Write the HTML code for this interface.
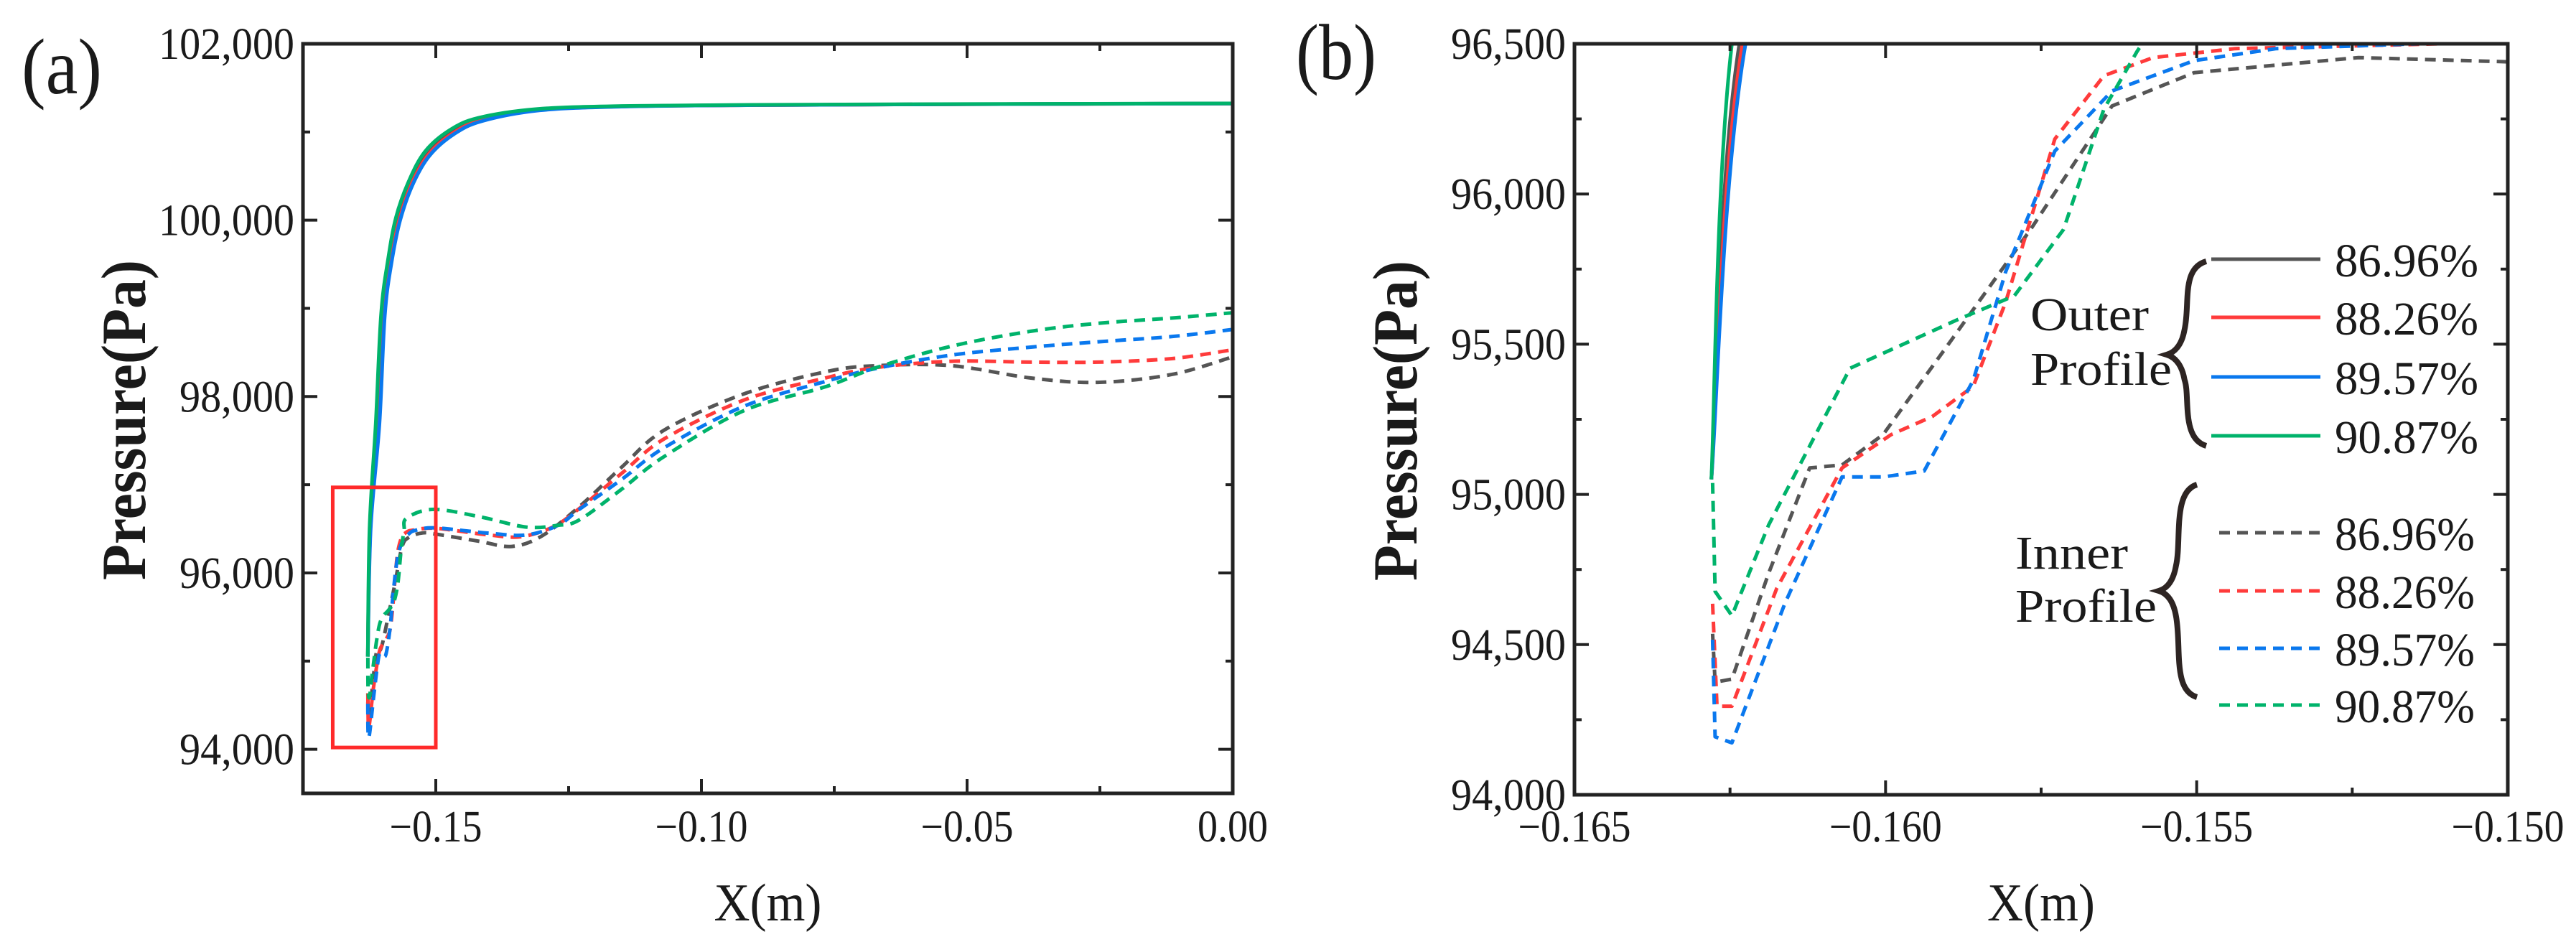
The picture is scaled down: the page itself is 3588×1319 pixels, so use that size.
<!DOCTYPE html>
<html><head><meta charset="utf-8"><style>
html,body{margin:0;padding:0;background:#fff;}
svg{display:block;}
text{font-family:"Liberation Serif","Times New Roman",serif;fill:#1a1a1a;}
</style></head><body>
<svg id="fig" width="3588" height="1319" viewBox="0 0 3588 1319" xmlns="http://www.w3.org/2000/svg">
<defs>
<clipPath id="clipA"><rect x="422" y="61" width="1295" height="1044"/></clipPath>
<clipPath id="clipB"><rect x="2193" y="61" width="1300" height="1046"/></clipPath>
</defs>
<g id="panelA"></g>
<g id="panelB"></g>
<text x="30" y="130" font-size="110" textLength="112" lengthAdjust="spacingAndGlyphs">(a)</text>
<text x="1805" y="110" font-size="110" textLength="112" lengthAdjust="spacingAndGlyphs">(b)</text>
<g id="legend"></g>
</svg>
<script>
const seriesNames = ["86.96%","88.26%","89.57%","90.87%"];
const seriesColors = ["#555555","#ff3b3b","#0a78ee","#00b36b"];
// Outer profile: x (m), pressure (Pa)
const outerX = [
 [-0.1628,-0.16235,-0.1608,-0.1598,-0.1585,-0.1569,-0.1545,-0.1514,-0.1468,-0.1414,-0.1305,-0.115,-0.09,-0.05,0],
 [-0.1628,-0.1623,-0.1607,-0.1597,-0.1584,-0.1568,-0.1544,-0.1513,-0.1467,-0.1413,-0.1305,-0.115,-0.09,-0.05,0],
 [-0.1628,-0.16225,-0.1606,-0.1596,-0.1583,-0.1567,-0.1543,-0.1512,-0.1466,-0.1412,-0.1304,-0.115,-0.09,-0.05,0],
 [-0.1628,-0.16247,-0.1613,-0.1603,-0.159,-0.1575,-0.1551,-0.152,-0.1474,-0.142,-0.131,-0.115,-0.09,-0.05,0]
];
const outerP = [
 [95050,96500,97700,98930,99550,100030,100440,100760,101000,101140,101250,101290,101305,101315,101322],
 [95050,96500,97700,98930,99550,100020,100430,100750,100990,101135,101248,101290,101305,101315,101322],
 [95050,96500,97700,98920,99530,100000,100410,100730,100975,101125,101245,101288,101305,101315,101322],
 [95050,96500,97700,98930,99550,100030,100440,100780,101020,101160,101260,101295,101308,101317,101324]
];
// Inner profile
const innerX = [
 [-0.16278,-0.16274,-0.16247,-0.16188,-0.16122,-0.1607,-0.16004,-0.15899,-0.15767,-0.15636,-0.15504,-0.1524,-0.150,-0.1420,-0.1357,-0.130,-0.123,-0.115,-0.107,-0.092,-0.0767,-0.067,-0.053,-0.038,-0.0254,-0.0115,0],
 [-0.16278,-0.16271,-0.16247,-0.16175,-0.1607,-0.15991,-0.15925,-0.15859,-0.15807,-0.15728,-0.15649,-0.1557,-0.15438,-0.150,-0.1400,-0.1340,-0.128,-0.123,-0.115,-0.107,-0.092,-0.0767,-0.067,-0.053,-0.038,-0.0254,-0.0115,0],
 [-0.16278,-0.16274,-0.16247,-0.16162,-0.1607,-0.16004,-0.15938,-0.15859,-0.15807,-0.15728,-0.15636,-0.15504,-0.15372,-0.150,-0.1400,-0.1330,-0.127,-0.123,-0.115,-0.107,-0.092,-0.0767,-0.067,-0.053,-0.038,-0.0254,-0.0115,0],
 [-0.16278,-0.16274,-0.16247,-0.16188,-0.16057,-0.15886,-0.15793,-0.15714,-0.15649,-0.15596,-0.1555,-0.1505,-0.142,-0.133,-0.127,-0.123,-0.115,-0.107,-0.092,-0.0767,-0.067,-0.053,-0.038,-0.0254,-0.0115,0]
];
const innerP = [
 [94536,94375,94385,94737,95088,95098,95199,95500,95882,96293,96404,96454,96440,96360,96300,96420,96750,97200,97620,98030,98280,98350,98350,98210,98160,98250,98450],
 [94636,94295,94295,94687,95088,95199,95259,95360,95640,96183,96394,96454,96484,96505,96430,96410,96520,96730,97130,97520,97960,98210,98330,98400,98390,98390,98430,98530],
 [94516,94193,94173,94636,95058,95058,95078,95380,95741,96143,96343,96444,96484,96510,96450,96430,96540,96720,97060,97420,97890,98170,98320,98470,98560,98620,98680,98760],
 [95038,94677,94596,94898,95420,95580,95661,95882,96283,96474,96620,96720,96640,96520,96540,96600,96950,97320,97840,98110,98330,98570,98740,98830,98890,98950]
];
const aXTicks = [-0.15,-0.10,-0.05,0.00];
const aXTickLabels = ["\u22120.15","\u22120.10","\u22120.05","0.00"];
const aYTicks = [94000,96000,98000,100000,102000];
const aYTickLabels = ["94,000","96,000","98,000","100,000","102,000"];
const bXTicks = [-0.165,-0.160,-0.155,-0.150];
const bXTickLabels = ["\u22120.165","\u22120.160","\u22120.155","\u22120.150"];
const bYTicks = [94000,94500,95000,95500,96000,96500];
const bYTickLabels = ["94,000","94,500","95,000","95,500","96,000","96,500"];

const NS="http://www.w3.org/2000/svg";
function mk(tag,attrs,parent){const e=document.createElementNS(NS,tag);for(const k in attrs)e.setAttribute(k,attrs[k]);parent.appendChild(e);return e;}
function smoothPath(p){
  let d='M'+p[0][0].toFixed(1)+','+p[0][1].toFixed(1);
  for(let i=0;i<p.length-1;i++){
    const p0=p[Math.max(i-1,0)],p1=p[i],p2=p[i+1],p3=p[Math.min(i+2,p.length-1)];
    const c1x=p1[0]+(p2[0]-p0[0])/6,c1y=p1[1]+(p2[1]-p0[1])/6;
    const c2x=p2[0]-(p3[0]-p1[0])/6,c2y=p2[1]-(p3[1]-p1[1])/6;
    d+=' C'+c1x.toFixed(1)+','+c1y.toFixed(1)+' '+c2x.toFixed(1)+','+c2y.toFixed(1)+' '+p2[0].toFixed(1)+','+p2[1].toFixed(1);
  }
  return d;
}
function charW(s){let w=0;for(const c of s){w+=(c===','||c==='.')?0.25:(c==='\u2212'?0.56:0.5);}return w;}

function drawPanel(g,box,xd,yd,xt,xtl,yt,ytl,xMinor,yMinor,clipId,key){
  const sx=v=>box.l+(v-xd[0])/(xd[1]-xd[0])*(box.r-box.l);
  const sy=v=>box.b-(v-yd[0])/(yd[1]-yd[0])*(box.b-box.t);
  const data=mk('g',{'clip-path':'url(#'+clipId+')'},g);
  
  
  for(let i=0;i<4;i++){
    const pts=innerX[i].map((x,j)=>[sx(x),sy(innerP[i][j])]);
    const pl=mk('path',{d:key==='panel-a'?smoothPath(pts):'M'+pts.map(q=>q[0].toFixed(1)+','+q[1].toFixed(1)).join(' L'),fill:'none',stroke:seriesColors[i],'stroke-width':5,'stroke-dasharray':'15 10','stroke-linejoin':'round'},data);
    
    
  }
  for(let i=0;i<4;i++){
    const pts=outerX[i].map((x,j)=>[sx(x),sy(outerP[i][j])]);
    const pl=mk('path',{d:smoothPath(pts),fill:'none',stroke:seriesColors[i],'stroke-width':5,'stroke-linejoin':'round'},data);
    
    
  }
  const fr=mk('rect',{x:box.l,y:box.t,width:box.r-box.l,height:box.b-box.t,fill:'none',stroke:'#222','stroke-width':5},g);
  
  
  const ax=mk('g',{stroke:'#222','stroke-width':4},g);
  
  
  xt.forEach((v,i)=>{const x=sx(v);
    mk('line',{x1:x,x2:x,y1:box.b,y2:box.b-20},ax);mk('line',{x1:x,x2:x,y1:box.t,y2:box.t+20},ax);
    const t=mk('text',{x:x,y:1172,'font-size':62,'text-anchor':'middle',stroke:'none',textLength:(charW(xtl[i])*56).toFixed(0),lengthAdjust:'spacingAndGlyphs'},g);
    t.textContent=xtl[i];
    
    
  });
  xMinor.forEach(v=>{const x=sx(v);mk('line',{x1:x,x2:x,y1:box.b,y2:box.b-10},ax);mk('line',{x1:x,x2:x,y1:box.t,y2:box.t+10},ax);});
  yt.forEach((v,i)=>{const y=sy(v);
    mk('line',{x1:box.l,x2:box.l+20,y1:y,y2:y},ax);mk('line',{x1:box.r,x2:box.r-20,y1:y,y2:y},ax);
    const t=mk('text',{x:box.l-12,y:y+21,'font-size':62,'text-anchor':'end',stroke:'none',textLength:(charW(ytl[i])*58).toFixed(0),lengthAdjust:'spacingAndGlyphs'},g);
    t.textContent=ytl[i];
    
    
  });
  yMinor.forEach(v=>{const y=sy(v);mk('line',{x1:box.l,x2:box.l+10,y1:y,y2:y},ax);mk('line',{x1:box.r,x2:box.r-10,y1:y,y2:y},ax);});
  const yl=mk('text',{x:0,y:0,'font-size':88,'font-weight':'bold','text-anchor':'middle',textLength:446,lengthAdjust:'spacingAndGlyphs',transform:'translate('+(box.l-220)+','+((box.t+box.b)/2+2)+') rotate(-90)'},g);
  yl.textContent='Pressure(Pa)';
  
  
  const xl=mk('text',{x:(box.l+box.r)/2,y:1282,'font-size':74,'text-anchor':'middle',textLength:150,lengthAdjust:'spacingAndGlyphs'},g);
  xl.textContent='X(m)';
  
  
  return {sx,sy};
}
const A=drawPanel(document.getElementById('panelA'),{l:422,r:1717,t:61,b:1105},[-0.175,0],[93500,102000],
  aXTicks,aXTickLabels,aYTicks,aYTickLabels,[-0.125,-0.075,-0.025],[95000,97000,99000,101000],'clipA','panel-a');
const hb=mk('rect',{x:A.sx(-0.1694),y:A.sy(96970),width:A.sx(-0.15)-A.sx(-0.1694),height:A.sy(94020)-A.sy(96970),fill:'none',stroke:'#ff2a2a','stroke-width':5},document.getElementById('panelA'));


drawPanel(document.getElementById('panelB'),{l:2193,r:3493,t:61,b:1107},[-0.165,-0.150],[94000,96500],
  bXTicks,bXTickLabels,bYTicks,bYTickLabels,[-0.1625,-0.1575,-0.1525],[94250,94750,95250,95750,96250],'clipB','panel-b');

// legend
const lg=document.getElementById('legend');
const solidY=[361,442,525,607], dashY=[742,823,903,982];
for(let i=0;i<4;i++){
  const l1=mk('line',{x1:3080,x2:3232,y1:solidY[i],y2:solidY[i],stroke:seriesColors[i],'stroke-width':5},lg);
  
  
  const t1=mk('text',{x:3252,y:solidY[i]+24,'font-size':66,textLength:200,lengthAdjust:'spacingAndGlyphs'},lg);
  t1.textContent=seriesNames[i];
  
  
  const l2=mk('line',{x1:3091,x2:3232,y1:dashY[i],y2:dashY[i],stroke:seriesColors[i],'stroke-width':5,'stroke-dasharray':'15 10'},lg);
  
  
  const t2=mk('text',{x:3252,y:dashY[i]+24,'font-size':66,textLength:195,lengthAdjust:'spacingAndGlyphs'},lg);
  t2.textContent=seriesNames[i];
  
  
}
function brace(px,rx,y0,ym,y1){
  const mx=px+(rx-px)*0.45;
  return 'M'+rx+','+y0+' C'+(mx-5)+','+(y0+10)+' '+(mx+8)+','+(ym-70)+' '+mx+','+(ym-35)+
   ' C'+(mx-4)+','+(ym-12)+' '+(px+10)+','+(ym-3)+' '+px+','+ym+
   ' C'+(px+10)+','+(ym+3)+' '+(mx-4)+','+(ym+12)+' '+mx+','+(ym+35)+
   ' C'+(mx+8)+','+(y1-70)+' '+(mx-5)+','+(y1-10)+' '+rx+','+y1;
}
const b1=mk('path',{d:brace(3018,3073,364,494,621),fill:'none',stroke:'#2e2523','stroke-width':8},lg);


const b2=mk('path',{d:brace(3007,3060,675,823,971),fill:'none',stroke:'#2e2523','stroke-width':8},lg);


[["Outer",2828,460,165],["Profile",2828,536,197],["Inner",2807,792,157],["Profile",2807,866,197]].forEach((d,i)=>{
  const t=mk('text',{x:d[1],y:d[2],'font-size':66,fill:'#2e2523',textLength:d[3],lengthAdjust:'spacingAndGlyphs'},lg);
  t.textContent=d[0];
  
  
});
</script>
</body></html>
